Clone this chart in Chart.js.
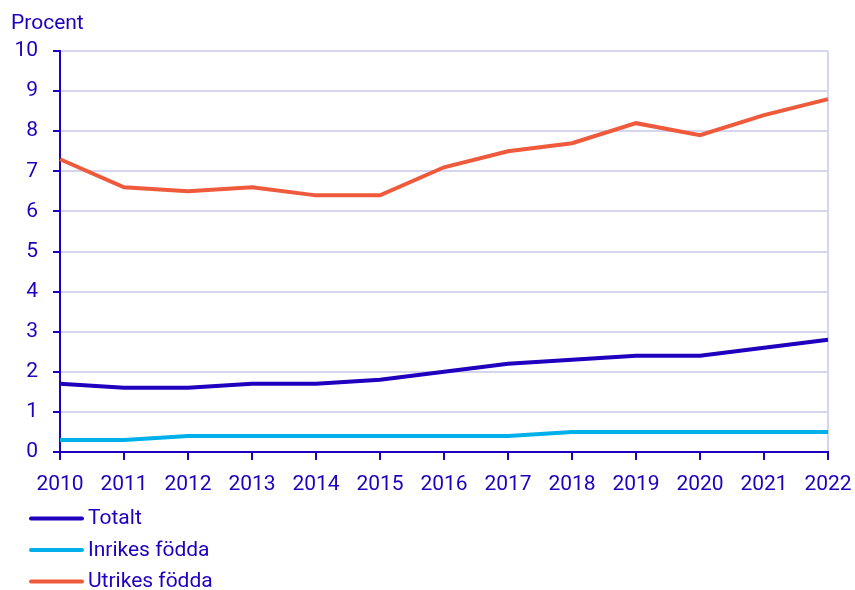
<!DOCTYPE html>
<html>
<head>
<meta charset="utf-8">
<script src="https://cdn.jsdelivr.net/npm/chart.js@4"></script>
<style>
html,body{margin:0;padding:0;background:#fff;}
#wrap{width:855px;height:590px;position:relative;}
</style>
</head>
<body>
<div id="wrap"><canvas id="c" width="855" height="590"></canvas></div>
<script>
const years = ["2010","2011","2012","2013","2014","2015","2016","2017","2018","2019","2020","2021","2022"];
const totalt = [1.7,1.6,1.6,1.7,1.7,1.8,2.0,2.2,2.3,2.4,2.4,2.6,2.8];
const inrikes = [0.3,0.3,0.4,0.4,0.4,0.4,0.4,0.4,0.5,0.5,0.5,0.5,0.5];
const utrikes = [7.3,6.6,6.5,6.6,6.4,6.4,7.1,7.5,7.7,8.2,7.9,8.4,8.8];
const seriesNames = ["Totalt","Inrikes födda","Utrikes födda"];
const yTitle = "Procent";

const TEXT = "#1e00be";
const GRID = "#d5d5f0";
const FONT = "Roboto";

const legendPlugin = {
  id: "vlegend",
  afterDraw(chart) {
    const ctx = chart.ctx;
    ctx.save();
    ctx.font = "21px " + FONT;
    ctx.fillStyle = TEXT;
    ctx.textBaseline = "middle";
    ctx.fillText(yTitle, 11, 24);
    chart.data.datasets.forEach((ds, i) => {
      const y = 518.5 + i * 31.5;
      ctx.strokeStyle = ds.borderColor;
      ctx.lineWidth = 4;
      ctx.lineCap = "round";
      ctx.beginPath();
      ctx.moveTo(31, y);
      ctx.lineTo(82, y);
      ctx.stroke();
      ctx.fillStyle = TEXT;
      ctx.fillText(ds.label, 88, y + 0.5);
    });
    ctx.restore();
  }
};

new Chart(document.getElementById("c"), {
  type: "line",
  data: {
    labels: years,
    datasets: [
      {label: seriesNames[0], data: totalt, borderColor: "#1e00be", borderWidth: 4},
      {label: seriesNames[1], data: inrikes, borderColor: "#00b0ea", borderWidth: 4},
      {label: seriesNames[2], data: utrikes, borderColor: "#f05a3c", borderWidth: 4}
    ]
  },
  options: {
    responsive: false,
    animation: false,
    devicePixelRatio: 1,
    layout: {padding: {left: 0, right: 27, top: 51, bottom: 93}},
    elements: {point: {radius: 0}, line: {tension: 0, borderCapStyle: "butt"}},
    plugins: {legend: {display: false}, title: {display: false}, tooltip: {enabled: false}},
    scales: {
      x: {
        afterFit(s) { s.height = 45; s.paddingLeft = 0; s.paddingRight = 0; },
        grid: {
          color: (c) => c.index === years.length - 1 ? GRID : "transparent",
          lineWidth: 2,
          tickColor: TEXT,
          tickLength: 8,
          drawOnChartArea: true
        },
        border: {color: TEXT, width: 2},
        ticks: {color: TEXT, font: {family: FONT, size: 21}, padding: 12, maxRotation: 0, autoSkip: false}
      },
      y: {
        min: 0, max: 10,
        afterFit(s) { s.width = 60; s.paddingTop = 0; s.paddingBottom = 0; },
        grid: {color: GRID, lineWidth: 2, tickColor: TEXT, tickLength: 7},
        border: {color: TEXT, width: 2},
        ticks: {stepSize: 1, color: TEXT, font: {family: FONT, size: 21}, padding: 15}
      }
    }
  },
  plugins: [legendPlugin]
});
</script>
</body>
</html>
